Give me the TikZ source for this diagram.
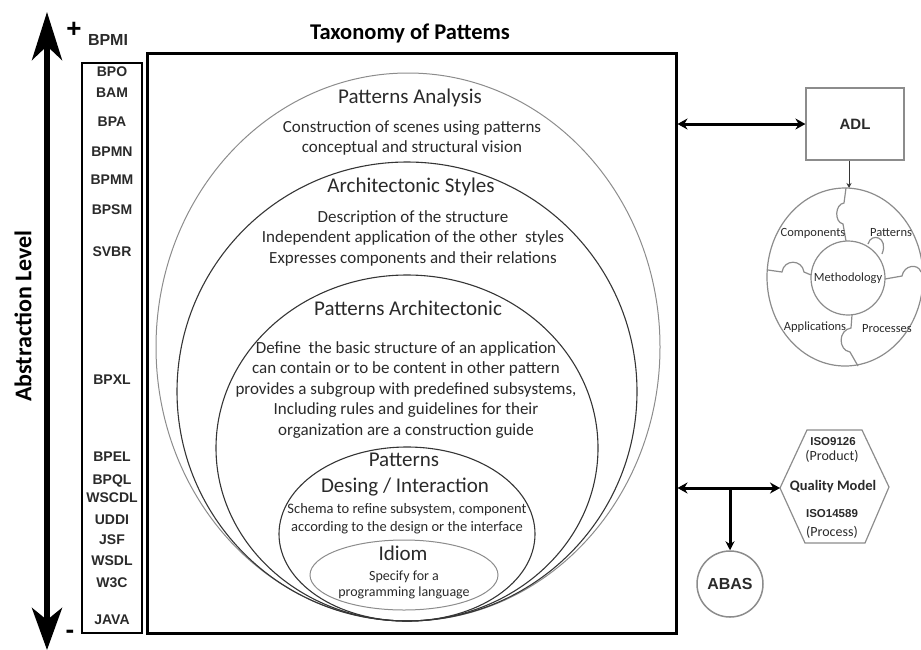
\documentclass[tikz,border=0pt]{standalone}
\usepackage{fontspec}
\setmainfont{Carlito}
\newfontfamily\arialf{Liberation Sans}
\usetikzlibrary{shapes.geometric,arrows.meta}
\definecolor{ink}{HTML}{2A2A2A}
\definecolor{lgray}{HTML}{8C8C8C}
\definecolor{dgray}{HTML}{353535}
\begin{document}
\begin{tikzpicture}[x=1pt,y=-1pt,
  lst/.style={font=\arialf\bfseries\fontsize{14}{16}\selectfont, text=ink, inner sep=0pt},
  ttl/.style={font=\fontsize{21}{24}\selectfont, text=ink, inner sep=0pt},
  body/.style={font=\fontsize{17}{20.5}\selectfont, text=ink, align=center, inner sep=0pt},
  smallbody/.style={font=\fontsize{14.5}{18}\selectfont, text=ink, align=center, inner sep=0pt},
  tinybody/.style={font=\fontsize{14}{16}\selectfont, text=ink, align=center, inner sep=0pt},
  ell/.style={ellipse, draw, inner sep=0pt},
  bigarrow/.style={line width=3pt, draw=black},
  pz/.style={draw=lgray, line width=1.2pt},
  pzlab/.style={font=\fontsize{12.5}{14}\selectfont, text=ink, inner sep=0pt},
]
\useasboundingbox (0,0) rectangle (921,649);

% ---- abstraction axis ----
\coordinate (axtop) at (47,12);
\coordinate (axbot) at (47,650);
\draw[line width=6pt, {Stealth[length=48pt,width=30pt,inset=14pt]}-{Stealth[length=42pt,width=30pt,inset=12pt]}] (axtop) -- (axbot);
\node[font=\arialf\bfseries\fontsize{26}{28}\selectfont, inner sep=0pt] (plus) at (74,30) {+};
\node[font=\arialf\bfseries\fontsize{16}{18}\selectfont, text=ink, inner sep=0pt] (bpmi) at (108,40) {BPMI};
\node[font=\arialf\bfseries\fontsize{26}{26}\selectfont, inner sep=0pt] (minus) at (70,634) {-};
\node[font=\bfseries\fontsize{24}{26}\selectfont, rotate=90, inner sep=0pt] (abs) at (23,316) {Abstraction Level};

% ---- list box ----
\node[draw, line width=2pt, minimum width=60pt, minimum height=570pt, inner sep=0pt] (lbox) at (112,348) {};
\node[lst] (l1) at (112,72) {BPO};
\node[lst] (l2) at (112,93) {BAM};
\node[lst] (l3) at (112,122) {BPA};
\node[lst] (l4) at (112,152) {BPMN};
\node[lst] (l5) at (112,180) {BPMM};
\node[lst] (l6) at (112,210) {BPSM};
\node[lst] (l7) at (112,252) {SVBR};
\node[lst] (l8) at (112,380) {BPXL};
\node[lst] (l9) at (112,457) {BPEL};
\node[lst] (l10) at (112,481) {BPQL};
\node[lst] (l11) at (112,498) {WSCDL};
\node[lst] (l12) at (112,520) {UDDI};
\node[lst] (l13) at (112,540) {JSF};
\node[lst] (l14) at (112,561) {WSDL};
\node[lst] (l15) at (112,583) {W3C};
\node[lst] (l16) at (112,620) {JAVA};

% ---- main box ----
\node[font=\bfseries\fontsize{22.5}{25}\selectfont, inner sep=0pt] (title) at (410,33) {Taxonomy of Pattems};
\node[draw, line width=3pt, minimum width=529pt, minimum height=580pt, inner sep=0pt] (main) at (411.5,343) {};

% ---- nested ellipses ----
\node[ell, draw=lgray, line width=1pt, minimum width=504pt, minimum height=548pt] (e1) at (408,347) {};
\node[ell, draw=dgray, line width=1.1pt, minimum width=460pt, minimum height=459pt] (e2) at (407,391.5) {};
\node[ell, draw=dgray, line width=1.1pt, minimum width=382pt, minimum height=346pt] (e3) at (407,448) {};
\node[ell, draw=dgray, line width=1.1pt, minimum width=256pt, minimum height=174pt] (e4) at (407,534) {};
\node[ell, draw=lgray, line width=1pt, minimum width=188pt, minimum height=70pt] (e5) at (404,575) {};

\node[ttl] (t1) at (410,98) {Patterns Analysis};
\node[body] (b1) at (412,138) {Construction of scenes using patterns\\conceptual and structural vision};
\node[ttl] (t2) at (411,187) {Architectonic Styles};
\node[body] (b2) at (413,238) {Description of the structure\\Independent application of the other\ \ styles\\Expresses components and their relations};
\node[ttl] (t3) at (408,308) {Patterns Architectonic};
\node[body] (b3) at (406,390) {Define\ \ the basic structure of an application\\can contain or to be content in other pattern\\provides a subgroup with predefined subsystems,\\Including rules and guidelines for their\\organization are a construction guide};
\node[ttl] (t4a) at (404,460) {Patterns};
\node[ttl] (t4b) at (405,487) {Desing / Interaction};
\node[smallbody] (b4) at (407,519) {Schema to refine subsystem, component\\according to the design or the interface};
\node[ttl] (t5) at (403,553) {Idiom};
\node[tinybody] (b5) at (404,585) {Specify for a\\programming language};

% ---- ADL and puzzle ----
\node[draw=lgray, line width=1.2pt, minimum width=98pt, minimum height=72pt, font=\arialf\bfseries\fontsize{15}{17}\selectfont, text=ink] (adl) at (855,124) {ADL};
\draw[bigarrow, {Stealth[length=10pt,width=11pt]}-{Stealth[length=10pt,width=11pt]}] (main.east |- adl.west) -- (adl.west);

\node[ellipse, pz, minimum width=156pt, minimum height=178pt, inner sep=0pt] (puz) at (845,277) {};
\coordinate (puztop) at (849,188);
\draw[line width=0.9pt, draw=dgray, -{Stealth[length=5pt,width=5pt]}] ([xshift=-6pt]adl.south) -- (puztop);
\node[circle, pz, minimum size=74pt, inner sep=0pt, font=\fontsize{12.5}{14}\selectfont, text=ink] (meth) at (848,278) {Methodology};
\draw[pz] (846,188) -- (844,203) .. controls (835,204) and (834,222) .. (843,224) -- (846,241);
\draw[pz] (768,270) -- (782,272) .. controls (784,259) and (802,259) .. (804,272) -- (811,275);
\draw[pz] (885,279) -- (902,276) .. controls (904,265) and (918,263) .. (921,272);
\draw[pz] (852,315) -- (851,328) .. controls (838,330) and (838,350) .. (850,352) -- (858,366);
\draw[pz] (868,244) .. controls (871,232) and (889,237) .. (882,254);
\node[pzlab] (pc) at (813,233) {Components};
\node[pzlab] (pp) at (891,233) {Patterns};
\node[pzlab] (pa) at (815,327) {Applications};
\node[pzlab] (pr) at (887,329) {Processes};

% ---- quality model ----
\draw[draw=lgray, line width=1.2pt] (780,488) -- (807,430) -- (862,430) -- (889,487) -- (865,543) -- (805,543) -- cycle;
\coordinate (qml) at (780,488);
\node[font=\arialf\bfseries\fontsize{11.5}{13}\selectfont, text=ink, inner sep=0pt] (iso1) at (833,442) {ISO9126};
\node[font=\fontsize{14}{16}\selectfont, text=ink, inner sep=0pt] (prod) at (832,456) {(Product)};
\node[font=\bfseries\fontsize{14.5}{16}\selectfont, text=ink, inner sep=0pt] (qm) at (833,487) {Quality Model};
\node[font=\arialf\bfseries\fontsize{11.5}{13}\selectfont, text=ink, inner sep=0pt] (iso2) at (832,514) {ISO14589};
\node[font=\fontsize{14}{16}\selectfont, text=ink, inner sep=0pt] (proc) at (832,532) {(Process)};
\draw[bigarrow, {Stealth[length=10pt,width=11pt]}-{Stealth[length=10pt,width=11pt]}] (main.east |- qml) -- (qml);

\node[circle, draw=lgray, line width=1.5pt, minimum size=66pt, inner sep=0pt, font=\arialf\bfseries\fontsize{16}{18}\selectfont, text=ink] (abas) at (730,584) {ABAS};
\coordinate (br) at (730,488);
\draw[bigarrow, -{Stealth[length=9pt,width=9pt]}] (br) -- (abas.north);
\end{tikzpicture}
\end{document}
